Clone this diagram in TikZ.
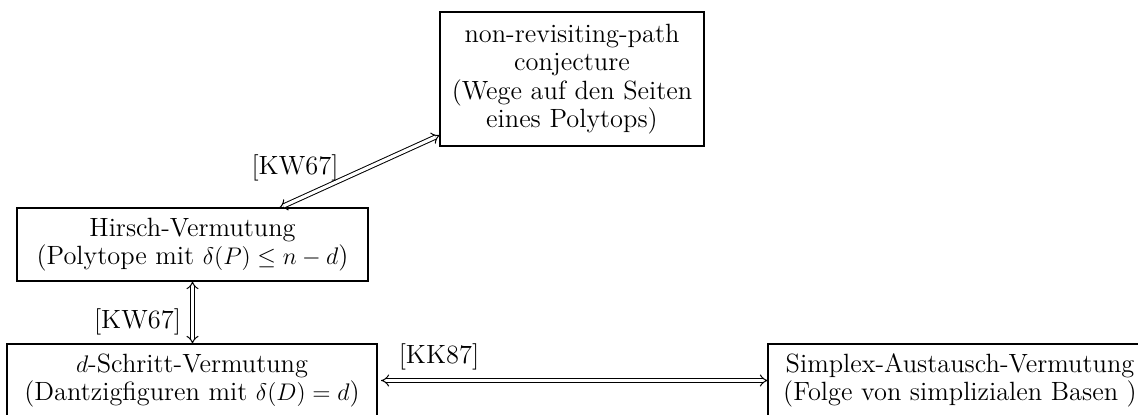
\documentclass[tikz,border=0pt]{standalone}
\usepackage {amsmath}
\usepackage {amssymb}
\usepackage {xcolor}
\usetikzlibrary{arrows.meta}

\begin{document}
\begin{tikzpicture}[x=1pt,y=-1pt,font=\fontsize{13.2}{14.2}\selectfont,
  conj/.style={draw,line width=1pt,align=center,inner sep=2.5pt,outer sep=0pt},
  equiv/.style={double,double distance=1.6pt,line width=0.5pt,{Implies}-{Implies}}]
\useasboundingbox (0,0) rectangle (569,207);
\clip (0,0) rectangle (569,207);
\node at(286,39.5)[conj,minimum width=132pt,minimum height=67pt](nrp){non-revisiting-path\\conjecture\\(Wege auf den Seiten\\eines Polytops)};
\node at(96.25,122.25)[conj,minimum width=175.5pt,minimum height=36.5pt](hirsch){Hirsch-Vermutung\\(Polytope mit $\delta(P)\leq n-d$)};
\node at(96,190.25)[conj,minimum width=185pt,minimum height=36.5pt](dstep){$d$-Schritt-Vermutung\\(Dantzigfiguren mit $\delta(D)=d$)};
\node at(384,190.25)[conj,anchor=west,minimum width=192pt,minimum height=36.5pt](simplex){Simplex-Austausch-Vermutung\\(Folge von simplizialen Basen )};
% Implikationen
\draw[equiv] (139.5,104) -- (nrp.west |- 0,67.5);
\draw[equiv] (hirsch.south) -- (dstep.north -| hirsch.south);
\draw[equiv,shorten <=2pt] (dstep.east) -- (simplex.west);
\node at(147.5,84){[KW67]};
\node at(68.75,161){[KW67]};
\node at(219.5,178.5){[KK87]};
\end{tikzpicture}
\end{document}
